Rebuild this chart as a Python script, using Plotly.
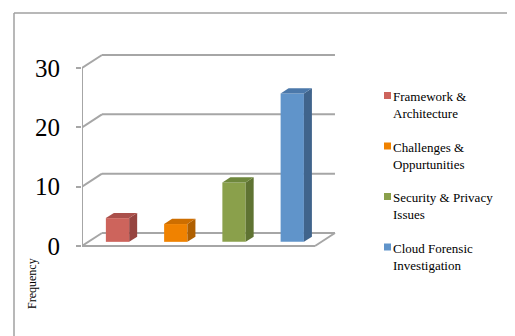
import plotly.graph_objects as go

# ---- data ----
categories = ["Framework &<br>Architecture", "Challenges &<br>Oppurtunities",
              "Security & Privacy<br>Issues", "Cloud Forensic<br>Investigation"]
values = [4, 3, 10, 25]
tick_values = [0, 10, 20, 30]
y_title = "Frequency"

# ---- style ----
face_colors = ["#CD645C", "#F08200", "#8AA04B", "#6094CA"]
side_colors = ["#964440", "#AF5F00", "#5F7332", "#40648C"]
top_colors = ["#AA504B", "#CD6E00", "#6E873C", "#4B78AA"]
GRID = "#A6A6A6"
FONT = "Liberation Serif"

OFF = 8                      # page body margin
W, H = 515 - OFF, 336 - OFF  # figure size
# plot area in page pixels
PL, PR, PT, PB = 82, 350, 40, 300
ML, MT = PL - OFF, PT - OFF
MR, MB = W - (PR - OFF), H - (PB - OFF)
PW, PH = PR - PL, PB - PT


def pxx(p):
    return (p - PL) / PW


def pxy(p):
    return (PB - p) / PH


# oblique projection (data units)
DX, DY = 0.343, 2.19      # full depth offset
D0, DD = 0.32, 0.40       # bar start depth and bar depth (fractions)
BW = 0.40                 # bar width
n = len(values)
XL, XR = -0.5, n - 0.5

fig = go.Figure()

# front faces
xs = [i + D0 * DX for i in range(n)]
base = D0 * DY
fig.add_trace(go.Bar(x=xs, y=values, base=[base] * n, width=BW,
                     marker=dict(color=face_colors, line=dict(width=0)),
                     showlegend=False, hoverinfo="skip"))

# side and top faces
for i, v in enumerate(values):
    xl = xs[i] - BW / 2
    xr = xs[i] + BW / 2
    ddx, ddy = DD * DX, DD * DY
    fig.add_trace(go.Scatter(
        x=[xr, xr + ddx, xr + ddx, xr, xr],
        y=[base, base + ddy, base + ddy + v, base + v, base],
        fill="toself", fillcolor=side_colors[i], mode="lines",
        line=dict(width=0, color=side_colors[i]), showlegend=False, hoverinfo="skip"))
    fig.add_trace(go.Scatter(
        x=[xl, xr, xr + ddx, xl + ddx, xl],
        y=[base + v, base + v, base + v + ddy, base + v + ddy, base + v],
        fill="toself", fillcolor=top_colors[i], mode="lines",
        line=dict(width=0, color=top_colors[i]), showlegend=False, hoverinfo="skip"))

shapes = []
gl = dict(color=GRID, width=2)
# back wall gridlines + left wall diagonals
for v in tick_values:
    shapes.append(dict(type="line", xref="x", yref="y", x0=XL + DX, x1=XR + DX,
                       y0=v + DY, y1=v + DY, line=gl, layer="below"))
    shapes.append(dict(type="line", xref="x", yref="y", x0=XL, x1=XL + DX,
                       y0=v, y1=v + DY, line=gl, layer="below"))
# left front edge
shapes.append(dict(type="line", xref="x", yref="y", x0=XL, x1=XL, y0=0,
                   y1=max(tick_values), line=gl, layer="below"))
# floor front + right edges
shapes.append(dict(type="line", xref="x", yref="y", x0=XL, x1=XR, y0=0, y1=0,
                   line=gl, layer="below"))
shapes.append(dict(type="line", xref="x", yref="y", x0=XR, x1=XR + DX, y0=0, y1=DY,
                   line=gl, layer="below"))
# chart frame
fl = dict(color="#A0A0A0", width=1.5)
shapes.append(dict(type="line", xref="paper", yref="paper", x0=pxx(14), x1=pxx(14),
                   y0=pxy(13), y1=pxy(340), line=fl))
shapes.append(dict(type="line", xref="paper", yref="paper", x0=pxx(14), x1=pxx(520),
                   y0=pxy(13), y1=pxy(13), line=fl))

annotations = [dict(text=y_title, xref="paper", yref="paper", x=pxx(32), y=pxy(284),
                     xanchor="center", yanchor="middle",
                     textangle=-90, showarrow=False,
                     font=dict(family=FONT, size=12, color="black"))]

# legend (manual)
for i, cat in enumerate(categories):
    cy = 105 + 50.5 * i
    sy = cy - 9.5
    shapes.append(dict(type="rect", xref="paper", yref="paper",
                       x0=pxx(384), x1=pxx(391), y0=pxy(sy - 3.5), y1=pxy(sy + 3.5),
                       fillcolor=face_colors[i], line=dict(width=0)))
    annotations.append(dict(text=cat, xref="paper", yref="paper", x=pxx(391), y=pxy(cy),
                            xanchor="left", yanchor="middle", align="left",
                            showarrow=False,
                            font=dict(family=FONT, size=13, color="black")))

y_per_px = 5.933
fig.update_layout(
    width=W, height=H,
    margin=dict(l=ML, r=MR, t=MT, b=MB, autoexpand=False),
    paper_bgcolor="white", plot_bgcolor="white",
    showlegend=False,
    xaxis=dict(visible=False, range=[XL, XL + PW / 58.25], fixedrange=True),
    yaxis=dict(range=[-(PB - 246) / y_per_px, (246 - PT) / y_per_px],
               tickvals=tick_values, ticktext=[str(t) for t in tick_values],
               ticks="outside", ticklen=5, tickwidth=2, tickcolor=GRID,
               ticklabelstandoff=11,
               showgrid=False, zeroline=False, showline=False,
               tickfont=dict(family=FONT, size=25, color="black"), fixedrange=True),
    shapes=shapes, annotations=annotations,
)

fig.write_html("out.html")
